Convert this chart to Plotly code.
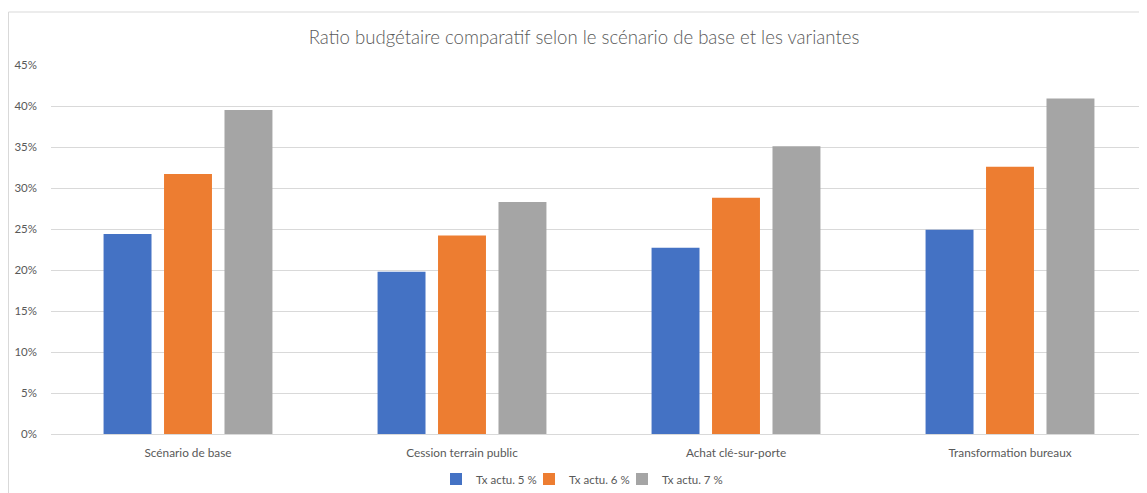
import plotly.graph_objects as go

categories = ["Scénario de base", "Cession terrain public", "Achat clé-sur-porte", "Transformation bureaux"]
series_names = ["Tx actu. 5 %", "Tx actu. 6 %", "Tx actu. 7 %"]
tx5 = [0.244, 0.198, 0.227, 0.249]
tx6 = [0.317, 0.242, 0.288, 0.326]
tx7 = [0.395, 0.283, 0.351, 0.409]
colors = ["#4472C4", "#ED7D31", "#A5A5A5"]
y_ticks = [0, 0.05, 0.10, 0.15, 0.20, 0.25, 0.30, 0.35, 0.40, 0.45]
title_text = "Ratio budgétaire comparatif selon le scénario de base et les variantes"

FONT = "Lato, 'Open Sans', sans-serif"
# page has an 8px body margin; figure is sized to end at the window edges
W, H = 1139, 485
L, T, B = 43, 57, 59
PW, PH = W - L, H - T - B

fig = go.Figure()
for name, vals, col in zip(series_names, [tx5, tx6, tx7], colors):
    fig.add_trace(go.Bar(x=categories, y=vals, name=name, marker_color=col,
                         marker_line_width=0, hoverinfo="x+y+name"))
# invisible spacer entry so the last legend label is not clipped
fig.add_trace(go.Scatter(x=[None], y=[None], mode="markers", name=" ",
                         marker=dict(color="rgba(0,0,0,0)"), hoverinfo="skip",
                         showlegend=True))

fig.update_layout(
    width=W, height=H,
    margin=dict(l=L, r=0, t=T, b=B, autoexpand=False),
    paper_bgcolor="white", plot_bgcolor="white",
    barmode="group", bargap=0.338, bargroupgap=0.207,
    title=dict(text=title_text, x=576 / W, xref="container", xanchor="center",
               y=1 - 29 / H, yref="container", yanchor="middle",
               font=dict(family=FONT, size=18.6, color="#595959", weight=300)),
    font=dict(family=FONT, size=11, color="#595959"),
    legend=dict(orientation="h", x=428 / W, xref="container", xanchor="left",
                y=1 - 471 / H, yref="container", yanchor="middle",
                font=dict(size=11.5, color="#595959"),
                entrywidth=48, entrywidthmode="pixels",
                traceorder="normal", itemclick=False),
    showlegend=True,
    shapes=[dict(type="rect", xref="paper", yref="paper",
                 x0=(0.5 - L) / PW, x1=1.2, y0=-0.3, y1=1 + (T - 4) / PH,
                 line=dict(color="#D9D9D9", width=1), fillcolor="rgba(0,0,0,0)", layer="below")],
)
fig.update_yaxes(range=[0, 0.45], tickvals=y_ticks, tickformat=".0%",
                 showgrid=True, gridcolor="#D9D9D9", gridwidth=1, zeroline=False,
                 showline=False, ticks="", ticklabelstandoff=13, automargin=False,
                 tickfont=dict(size=11.5, color="#595959"))
fig.update_xaxes(showline=True, linecolor="#D9D9D9", linewidth=1, ticks="",
                 automargin=False,
                 tickfont=dict(size=11.8, color="#595959"), ticklabelstandoff=8)

fig.write_html("out.html")
